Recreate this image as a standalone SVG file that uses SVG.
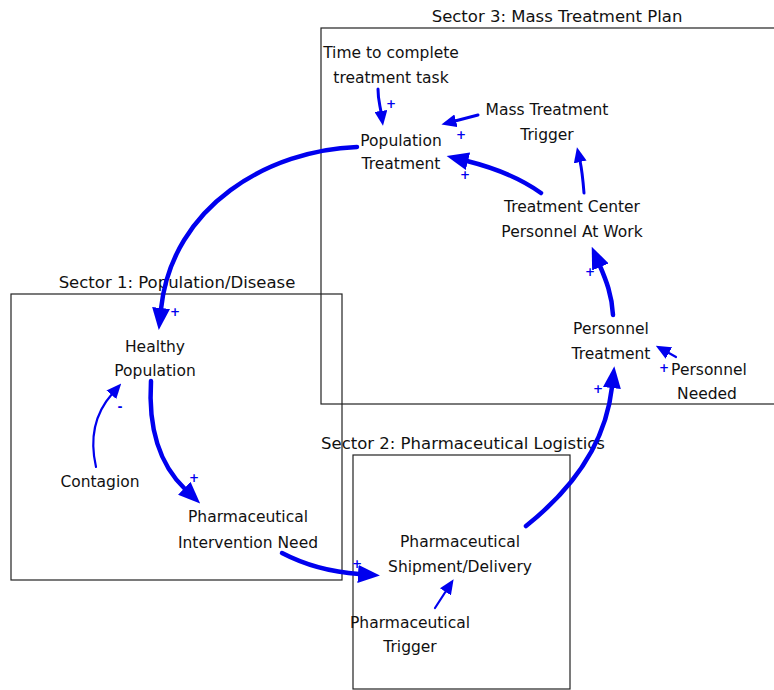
<svg xmlns="http://www.w3.org/2000/svg" width="774" height="690" viewBox="0 0 774 690">
<style>
.t{font-family:"DejaVu Sans","Liberation Sans",sans-serif;font-size:15.5px;fill:#111;text-anchor:middle}
.h{font-size:16.5px}
.s{fill:none;stroke:#222;stroke-width:1.2}
.a{fill:none;stroke:#0000ee;stroke-linecap:round}
.k{stroke-width:4.5}
.m{stroke-width:3}
.n{stroke-width:2.2}
.p{font-family:"DejaVu Sans","Liberation Sans",sans-serif;font-size:12px;font-weight:bold;fill:#0000ee;text-anchor:middle}
</style>
<defs>
<marker id="big" markerUnits="userSpaceOnUse" markerWidth="22" markerHeight="18" refX="1" refY="9" orient="auto"><path d="M0,0 L22,9 L0,18 z" fill="#0000ee"/></marker>
<marker id="sm" markerUnits="userSpaceOnUse" markerWidth="15" markerHeight="13" refX="1" refY="6.5" orient="auto"><path d="M0,0 L15,6.5 L0,13 z" fill="#0000ee"/></marker>
</defs>
<g id="sectors">
<rect class="s" x="321" y="28" width="460" height="376"/>
<rect class="s" x="11" y="294" width="331" height="286"/>
<rect class="s" x="353" y="455" width="217" height="234"/>
<text class="t h" x="557" y="22">Sector 3: Mass Treatment Plan</text>
<text class="t h" x="177" y="288">Sector 1: Population/Disease</text>
<text class="t h" x="463" y="449">Sector 2: Pharmaceutical Logistics</text>
</g>
<g id="connectors">
<path class="a k" d="M357,147 C270,150 172,205 161,309" marker-end="url(#big)"/>
<path class="a k" d="M151,381 C148,430 160,465 185,489" marker-end="url(#big)"/>
<path class="a n" d="M96,467 C88,432 98,410 112,394" marker-end="url(#sm)"/>
<path class="a k" d="M282,553 C305,565 330,572 359,574" marker-end="url(#big)"/>
<path class="a n" d="M435,608 L446,591" marker-end="url(#sm)"/>
<path class="a k" d="M526,526 C565,495 605,450 612,387" marker-end="url(#big)"/>
<path class="a k" d="M613,315 C612,295 606,280 600,266" marker-end="url(#big)"/>
<path class="a n" d="M676,357 L668,352.5" marker-end="url(#sm)"/>
<path class="a k" d="M541,193 C520,178 495,168 467,161" marker-end="url(#big)"/>
<path class="a m" d="M584,193 C583,180 582,170 580,161" marker-end="url(#sm)"/>
<path class="a m" d="M478,115 L455,121" marker-end="url(#sm)"/>
<path class="a m" d="M378,89 C378,100 380,105 381,112" marker-end="url(#sm)"/>
<text class="p" x="391" y="108">+</text>
<text class="p" x="461" y="139">+</text>
<text class="p" x="465" y="179">+</text>
<text class="p" x="590" y="276">+</text>
<text class="p" x="664" y="372">+</text>
<text class="p" x="598" y="393">+</text>
<text class="p" x="175" y="316">+</text>
<text class="p" x="194" y="482">+</text>
<text class="p" x="120" y="411">-</text>
<text class="p" x="357" y="568">+</text>
</g>
<g id="time-to-complete"><text class="t" x="391" y="58">Time to complete</text><text class="t" x="391" y="83">treatment task</text></g>
<g id="population-treatment"><text class="t" x="401" y="146">Population</text><text class="t" x="401" y="169">Treatment</text></g>
<g id="mass-treatment-trigger"><text class="t" x="547" y="115">Mass Treatment</text><text class="t" x="547" y="140">Trigger</text></g>
<g id="treatment-center"><text class="t" x="572" y="212">Treatment Center</text><text class="t" x="572" y="237">Personnel At Work</text></g>
<g id="personnel-treatment"><text class="t" x="611" y="334">Personnel</text><text class="t" x="611" y="359">Treatment</text></g>
<g id="personnel-needed"><text class="t" x="709" y="375">Personnel</text><text class="t" x="707" y="399">Needed</text></g>
<g id="healthy-population"><text class="t" x="155" y="352">Healthy</text><text class="t" x="155" y="376">Population</text></g>
<g id="contagion"><text class="t" x="100" y="487">Contagion</text></g>
<g id="pharm-need"><text class="t" x="248" y="522">Pharmaceutical</text><text class="t" x="248" y="548">Intervention Need</text></g>
<g id="pharm-shipment"><text class="t" x="460" y="547">Pharmaceutical</text><text class="t" x="460" y="572">Shipment/Delivery</text></g>
<g id="pharm-trigger"><text class="t" x="410" y="628">Pharmaceutical</text><text class="t" x="410" y="652">Trigger</text></g>
</svg>
